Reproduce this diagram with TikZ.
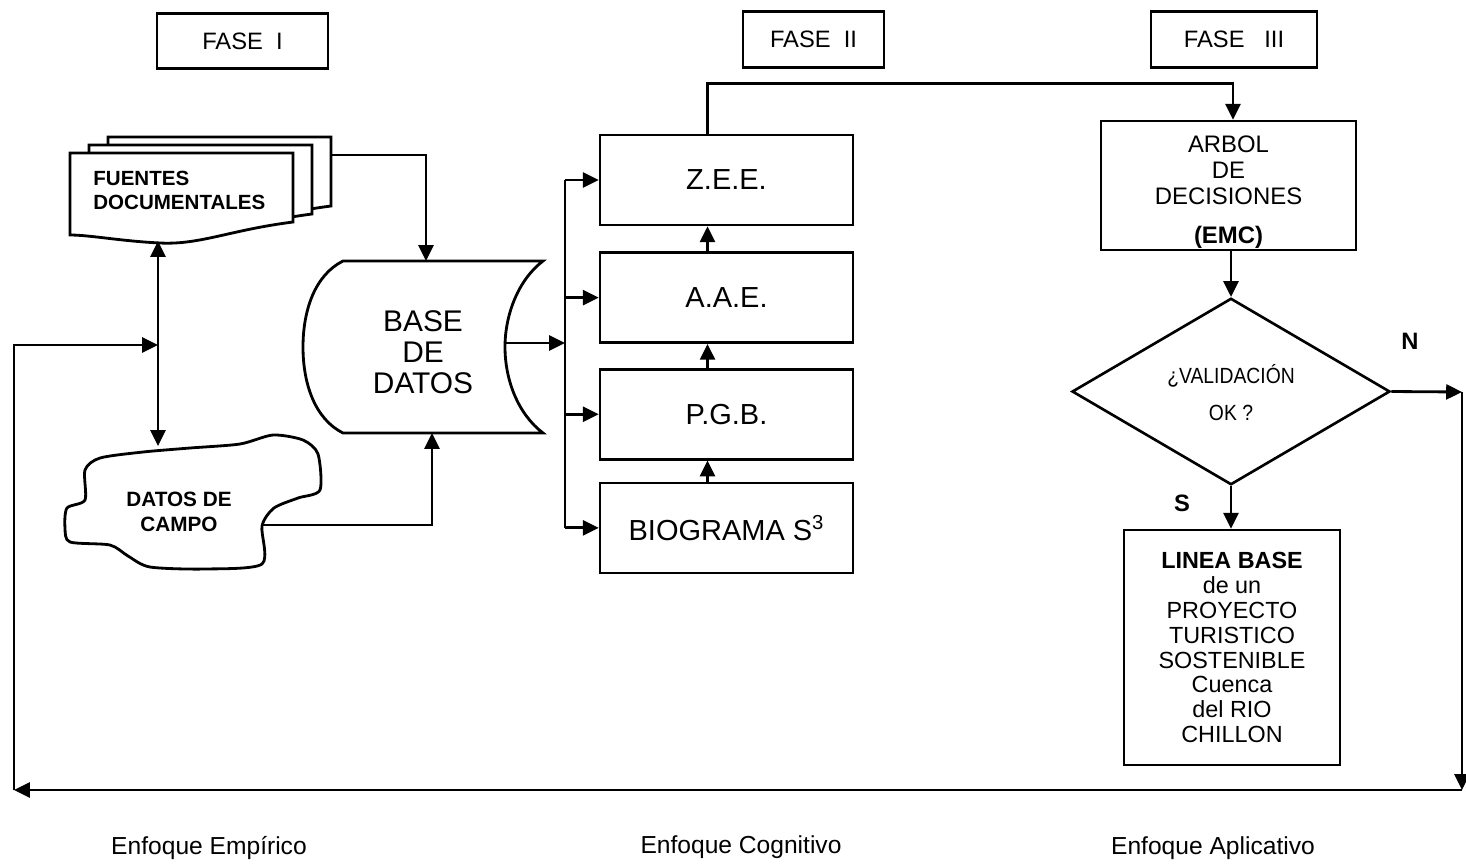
\documentclass[tikz,border=0pt]{standalone}
\usepackage{fontspec}
\setmainfont{Liberation Sans}
\newfontfamily\narrowsans[FakeStretch=0.88]{Liberation Sans}
\usepackage{tikz}
\usetikzlibrary{positioning}
\usetikzlibrary{calc}
\usetikzlibrary{arrows.meta}
\usetikzlibrary{shapes.geometric}

\newcommand{\fsz}[2]{\fontsize{#1}{#2}\selectfont}

\begin{document}
\begin{tikzpicture}[x=0.02cm, y=-0.02cm,
		box/.style={draw, line width=1.5pt, inner sep=0pt, align=center},
		arr/.style={-{Triangle[length=9pt, width=8.5pt]}, line width=1.6pt},
		darr/.style={{Triangle[length=9pt, width=8.5pt]}-{Triangle[length=9pt, width=8.5pt]}, line width=1.6pt},
		ln/.style={line width=1.6pt},
		fase/.style={box, minimum width=#1, minimum height=1.11cm, font=\fsz{13.5}{15}},
		etapa/.style={box, minimum width=5.06cm, minimum height=1.8cm, font=\fsz{16.5}{19}},
		lbl/.style={font=\fsz{14}{16}}]
				\useasboundingbox (0,0) rectangle (1466,863);

				% phases
				\node[fase=3.42cm] (f1) at (242.5,41) {FASE~~I};
				\node[fase=2.82cm] (f2) at (813.5,39.5) {FASE~~II};
				\node[fase=3.32cm] (f3) at (1234,39.5) {FASE~~~III};

				% fuentes documentales (stack of documents)
				\foreach \dx/\dy in {38/-16, 19/-8, 0/0} {
					\draw[ln, fill=white, shift={(\dx,\dy)}] (70,153) -- (293,153) -- (293,222)
						.. controls (230,230) and (200,245) .. (160,243)
						.. controls (120,241) and (90,235) .. (70,235) -- cycle;
				}
				\node[anchor=west, align=left, inner sep=0pt, font=\bfseries\fsz{11.7}{13.6}] (fuentes) at (93,190) {FUENTES\\DOCUMENTALES};

				% datos de campo
				\draw[ln, fill=white] plot[smooth cycle, tension=0.45] coordinates {
					(85,470) (100,458) (143,452) (190,448) (240,444) (273,435) (303,440)
					(318,454) (320,490) (298,498) (274,508) (262,526) (262,564) (205,569)
					(150,567) (128,556) (110,545) (70,542) (65,528) (67,508) (85,500)};
				\node[align=center, font=\bfseries\fsz{11.8}{14.2}] (campo) at (179,512) {DATOS DE\\CAMPO};

				% base de datos
				\draw[ln, fill=white] (343,261) -- (543,261)
					.. controls (518,280) and (505,315) .. (505,347)
					.. controls (505,380) and (518,414) .. (543,433) -- (343,433)
					.. controls (315,419) and (303,384) .. (303,347)
					.. controls (303,310) and (315,275) .. (343,261) -- cycle;
				\node[align=center, font=\fsz{17}{17.6}] (base) at (423,352) {BASE\\DE\\DATOS};

				% fase II
				\node[etapa] (zee) at (726.5,180) {Z.E.E.};
				\node[etapa, below=0.5cm of zee] (aae) {A.A.E.};
				\node[etapa, below=0.48cm of aae] (pgb) {P.G.B.};
				\node[etapa, below=0.42cm of pgb] (bio) {BIOGRAMA S\textsuperscript{3}};

				% fase III
				\node[box, minimum width=5.1cm, minimum height=2.58cm, font=\fsz{13.6}{14.8}] (arbol) at (1228.5,185.5)
					{\rule{0pt}{17pt}ARBOL\\DE\\DECISIONES\\[7pt]\textbf{(EMC)}};
				\node[draw, diamond, line width=1.5pt, minimum width=6.36cm, minimum height=3.46cm, inner sep=0pt,
					align=center, font=\narrowsans\fsz{12.5}{21.5}] (valid) at (1231,391.5) {\rule{0pt}{12pt}¿VALIDACIÓN\\OK ?};
				\node[box, minimum width=4.32cm, minimum height=4.7cm, font=\fsz{13.3}{14.2}] (linea) at (1232,647.5)
					{\rule{0pt}{7pt}\textbf{LINEA BASE}\\de un\\PROYECTO\\TURISTICO\\SOSTENIBLE\\Cuenca\\del RIO\\CHILLON};
				\node[font=\fsz{13.5}{16}\bfseries] (no) at (1410,341) {N};
				\node[font=\fsz{13.5}{16}\bfseries] (si) at (1182,503) {S};

				% enfoques
				\node[lbl] (emp) at (209,848) {Enfoque Empírico};
				\node[lbl] (cog) at (741,847) {Enfoque Cognitivo};
				\node[lbl] (apl) at (1213,848) {Enfoque Aplicativo};

				% edge points
				\coordinate (fout) at (331,155);
				\coordinate (fbot) at (158,241);
				\coordinate (ctop) at (158,446);
				\coordinate (cout) at (262,525);
				\coordinate (btop) at (426,261);
				\coordinate (bbot) at (432,433);
				\coordinate (bout) at (505,343);
				\coordinate (bus) at (565,343);
				\coordinate (ne) at (1462,392);
				\coordinate (se) at (1462,790);
				\coordinate (sw) at (14,790);
				\coordinate (nw) at (14,345);
				\coordinate (fb) at (158,345);

				% edges
				\draw[arr] (fout) -- (fout -| btop) -- (btop);
				\draw[arr] (cout) -- (cout -| bbot) -- (bbot);
				\draw[darr] (fbot) -- (ctop);
				\draw[arr] (bout) -- (bus);
				\draw[ln] (bus |- zee.west) -- (bus |- bio.west);
				\foreach \n in {zee, aae, pgb, bio}
					\draw[arr] (bus |- \n.west) -- (\n.west);
				\foreach \a/\b in {bio/pgb, pgb/aae, aae/zee}
					\draw[arr] ([xshift=-0.38cm]\a.north) -- ([xshift=-0.38cm]\b.south);

				\draw[arr] ([xshift=-0.38cm]zee.north) -- ++(0,-50) -| ([xshift=0.09cm]arbol.north);
				\draw[arr] (arbol.south -| valid.north) -- (valid.north);
				\draw[arr] (valid.south) -- (valid.south |- linea.north);

				\draw[arr] (valid.east) -- (ne);
				\draw[arr] (ne) -- (se);
				\draw[arr] (se) -- (sw);
				\draw[arr] (sw) -- (nw) -- (fb);
			\end{tikzpicture}
\end{document}
